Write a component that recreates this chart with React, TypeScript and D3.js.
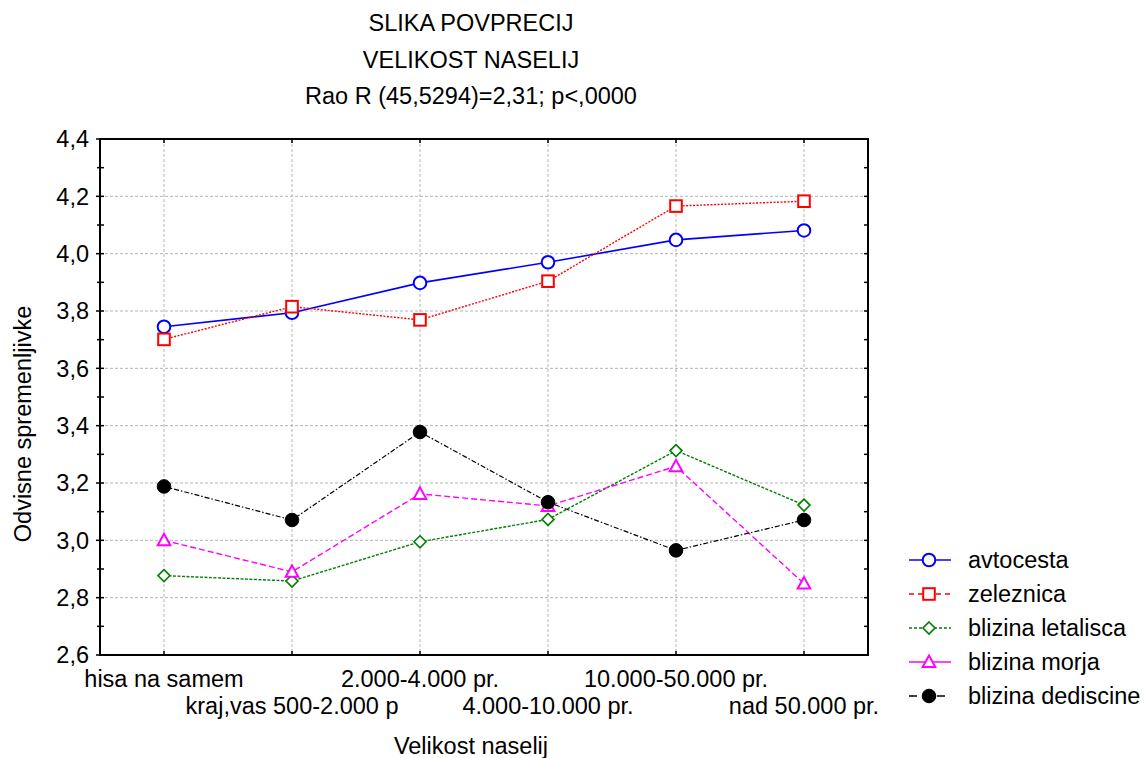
import React from "react";
import * as d3 from "d3";

const categories = [
  "hisa na samem",
  "kraj,vas 500-2.000 p",
  "2.000-4.000 pr.",
  "4.000-10.000 pr.",
  "10.000-50.000 pr.",
  "nad 50.000 pr.",
];
const yTicks = [2.6, 2.8, 3.0, 3.2, 3.4, 3.6, 3.8, 4.0, 4.2, 4.4];
const yMinor = [2.7, 2.9, 3.1, 3.3, 3.5, 3.7, 3.9, 4.1, 4.3];

const avtocesta = [3.745, 3.794, 3.898, 3.97, 4.048, 4.081];
const zeleznica = [3.701, 3.815, 3.769, 3.904, 4.166, 4.183];
const letalisca = [2.877, 2.858, 2.995, 3.073, 3.313, 3.123];
const morja = [3.0, 2.89, 3.162, 3.12, 3.258, 2.849];
const dediscine = [3.188, 3.071, 3.378, 3.133, 2.965, 3.071];

const titleLines = ["SLIKA POVPRECIJ", "VELIKOST NASELIJ", "Rao R (45,5294)=2,31; p<,0000"];
const xTitle = "Velikost naselij";
const yTitle = "Odvisne spremenljivke";

type Marker = "circle" | "square" | "diamond" | "triangle" | "dot";
const series: { name: string; values: number[]; color: string; dash: string; legendDash: string; marker: Marker; width: number }[] = [
  { name: "avtocesta", values: avtocesta, color: "#0000ff", dash: "", legendDash: "", marker: "circle", width: 1.6 },
  { name: "zeleznica", values: zeleznica, color: "#ff0000", dash: "2,1.5", legendDash: "5,4", marker: "square", width: 1.4 },
  { name: "blizina letalisca", values: letalisca, color: "#008000", dash: "3,1.5", legendDash: "3,2", marker: "diamond", width: 1.4 },
  { name: "blizina morja", values: morja, color: "#ff00ff", dash: "6,3", legendDash: "", marker: "triangle", width: 1.4 },
  { name: "blizina dediscine", values: dediscine, color: "#000000", dash: "5,2,1.5,2", legendDash: "", marker: "dot", width: 1.2 },
];

const W = 1147;
const H = 758;
const L = 100, R = 868, T = 139, B = 655;
const FONT = "'Liberation Sans', Arial, sans-serif";

function MarkerShape({ kind, x, y, color }: { kind: Marker; x: number; y: number; color: string }) {
  const sw = 2;
  if (kind === "circle") return <circle cx={x} cy={y} r={6.3} fill="white" stroke={color} strokeWidth={sw} />;
  if (kind === "square") return <rect x={x - 5.8} y={y - 5.8} width={11.6} height={11.6} fill="white" stroke={color} strokeWidth={sw} />;
  if (kind === "diamond")
    return <path d={`M${x},${y - 6}L${x + 6},${y}L${x},${y + 6}L${x - 6},${y}Z`} fill="white" stroke={color} strokeWidth={1.6} />;
  if (kind === "triangle")
    return <path d={`M${x},${y - 6.5}L${x + 6.3},${y + 5}L${x - 6.3},${y + 5}Z`} fill="white" stroke={color} strokeWidth={sw} />;
  return <circle cx={x} cy={y} r={6.8} fill="black" stroke="black" strokeWidth={1} />;
}

export default function App() {
  const x = d3.scalePoint<string>().domain(categories).range([L, R]).padding(0.5);
  const y = d3.scaleLinear().domain([2.6, 4.4]).range([B, T]);
  const line = d3
    .line<number>()
    .x((_, i) => x(categories[i]) as number)
    .y((d) => y(d));

  const legendRows = [560, 594, 628, 662, 696];

  return (
    <svg width={W} height={H} style={{ position: "absolute", left: 0, top: 0, background: "white" }} fontFamily={FONT}>
      {/* Title */}
      {titleLines.map((t, i) => (
        <text key={t} x={471} y={31 + i * 36.5} textAnchor="middle" fontSize={23.5} fill="#000">
          {t}
        </text>
      ))}

      {/* grid */}
      {yTicks.slice(1, -1).map((v) => (
        <line key={"gy" + v} x1={L} x2={R} y1={y(v)} y2={y(v)} stroke="#b4b4b4" strokeWidth={1} strokeDasharray="3,2" />
      ))}
      {categories.map((c) => (
        <line key={"gx" + c} x1={x(c)} x2={x(c)} y1={T} y2={B} stroke="#b4b4b4" strokeWidth={1} strokeDasharray="3,2" />
      ))}

      {/* series lines */}
      {series.map((s) => (
        <path key={"l" + s.name} d={line(s.values) || ""} fill="none" stroke={s.color} strokeWidth={s.width} strokeDasharray={s.dash || undefined} />
      ))}
      {series.map((s) =>
        s.values.map((v, i) => <MarkerShape key={s.name + i} kind={s.marker} x={x(categories[i]) as number} y={y(v)} color={s.color} />)
      )}

      {/* frame */}
      <rect x={L} y={T} width={R - L} height={B - T} fill="none" stroke="#000" strokeWidth={2} />
      {/* y ticks */}
      {yTicks.map((v) => (
        <g key={"yt" + v}>
          <line x1={L - 4} x2={L + 4} y1={y(v)} y2={y(v)} stroke="#000" strokeWidth={1.5} />
          <line x1={R - 4} x2={R} y1={y(v)} y2={y(v)} stroke="#000" strokeWidth={1.5} />
          <text x={89} y={y(v)} dy="0.36em" textAnchor="end" fontSize={23.5}>
            {d3.format(".1f")(v).replace(".", ",")}
          </text>
        </g>
      ))}
      {yMinor.map((v) => (
        <g key={"ym" + v}>
          <line x1={L - 3} x2={L + 4} y1={y(v)} y2={y(v)} stroke="#000" strokeWidth={1.5} />
          <line x1={R - 4} x2={R} y1={y(v)} y2={y(v)} stroke="#000" strokeWidth={1.5} />
        </g>
      ))}
      {/* x ticks */}
      {categories.map((c, i) => (
        <g key={"xt" + c}>
          <line x1={x(c)} x2={x(c)} y1={T} y2={T + 4} stroke="#000" strokeWidth={1.5} />
          <line x1={x(c)} x2={x(c)} y1={B - 4} y2={B} stroke="#000" strokeWidth={1.5} />
          <text x={x(c)} y={i % 2 === 0 ? 687 : 714} textAnchor="middle" fontSize={23.5}>
            {c}
          </text>
        </g>
      ))}

      {/* axis titles */}
      <text x={471} y={754} textAnchor="middle" fontSize={23.5}>
        {xTitle}
      </text>
      <text transform={`translate(31,424) rotate(-90)`} textAnchor="middle" fontSize={23.5}>
        {yTitle}
      </text>

      {/* legend */}
      {series.map((s, i) => (
        <g key={"lg" + s.name}>
          <line x1={909} x2={951} y1={legendRows[i]} y2={legendRows[i]} stroke={s.color} strokeWidth={1.6} strokeDasharray={s.legendDash || (s.marker === "dot" ? "8,6" : s.marker === "triangle" ? "" : undefined)} />
          <MarkerShape kind={s.marker} x={929} y={legendRows[i]} color={s.color} />
          <text x={968} y={legendRows[i]} dy="0.36em" fontSize={23.5}>
            {s.name}
          </text>
        </g>
      ))}
    </svg>
  );
}
